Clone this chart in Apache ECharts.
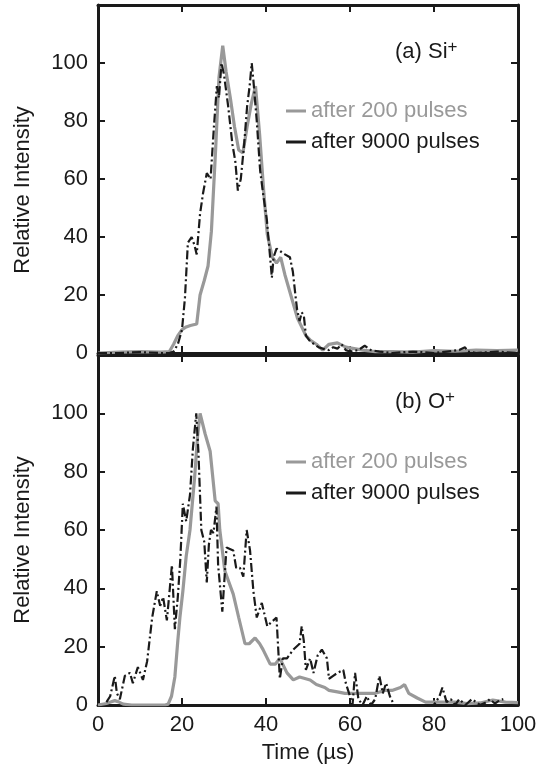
<!DOCTYPE html>
<html>
<head>
<meta charset="utf-8">
<script src="https://cdn.jsdelivr.net/npm/echarts@6/dist/echarts.min.js"></script>
<style>
  html, body { margin: 0; padding: 0; background: #fff; }
  #chart { width: 542px; height: 767px; }
</style>
</head>
<body>
<div id="chart"></div>
<script>
// 时间刻度 / 强度刻度
var timeTicks = [0, 20, 40, 60, 80, 100];
var intensityTicks = [0, 20, 40, 60, 80, 100];

// (a) Si+ : [time, intensity]
var si200 = [[0,0],[5,0.3],[10,0.5],[15,0.3],[17,0.5],[18,3],[19,6],[20,8],[21,9],[22,9.5],[23.5,10],
  [24.3,20],[25.3,25],[26.2,30],[27,42],[28,70],[28.8,95],[29.7,106],[30.5,97],[31.5,88],[32.5,78],
  [33.5,70],[34.5,69],[35.5,78],[36.5,86],[37.5,92],[38.5,75],[39.5,55],[40.3,41],[41.5,33],[42.5,31],
  [43.5,33],[44.5,27],[45.5,22],[46.5,17],[47.5,12],[48.5,9],[49.5,6],[50.5,4.5],[52,3],[53.5,1],
  [55,3],[57,3.5],[59,2],[61,1.5],[63,1],[66,0.5],[70,0.5],[75,0.3],[80,0.8],[85,0.6],[90,1],[95,0.8],[100,1]];
var si9000 = [[0,0],[5,0],[10,0.3],[15,0],[17,0],[18,0.5],[19,3],[20,8],[20.7,19],[21.4,38],[22.3,40],
  [23,37],[23.5,34],[24.3,48],[25,55],[25.9,62],[26.8,60],[27.6,78],[28.3,92],[28.8,88],[29.4,100],
  [30,96],[31,85],[32,72],[32.7,66],[33.3,56],[34,60],[34.8,72],[35.5,85],[36.1,92],[36.6,100],[37,94],
  [37.8,80],[38.6,63],[39.3,55],[40.2,46],[40.8,36],[41.4,26],[41.8,33],[42.5,36],[43.5,35],[44.5,34],
  [45.7,33],[46.4,28],[47,20],[47.4,15],[48,11],[48.5,14],[49,13],[49.5,6],[50.5,4],[51.5,3],[52.5,2],
  [53.5,1.5],[55,1],[56,2],[57,1.5],[58,3],[59,1],[60,0.5],[62,1],[63.5,2.5],[65,1],[67,0.5],[70,0],
  [75,0.5],[80,0],[83,0.5],[86,1],[87.4,2],[88,0.5],[90,0],[95,0.5],[100,0]];

// (b) O+ : [time, intensity]
var o200 = [[0,0],[2,0.5],[3,1],[4,1.5],[5,1],[6,0.3],[8,0],[12,0],[16,0],[16.7,0.3],[17.5,3],[18.3,9.6],
  [19,22],[19.5,30],[20.2,39],[21,51],[21.9,60],[23,78],[23.7,92],[24.3,100],[25.5,93],[26.7,87],
  [27.9,70],[28.6,69],[29,60],[30.2,46],[31.2,42],[32.2,38],[33.5,30],[35,21],[36,21],[37.4,23],
  [38.5,21],[39.3,19],[41,14],[42.2,14],[43.3,16],[45,11],[46.5,8.6],[48,9.6],[50.5,8.6],[52,7],
  [54,6],[55,5],[57,4.5],[58.8,4],[61,4],[63.6,4],[66,4],[68.3,5],[70,5],[72,6],[73,7],[74,4],[76,2.4],
  [78,1],[82,1],[85,1],[88,0.5],[91,0.7],[94,1.7],[97,1],[100,0.8]];
var o9000 = [[2,1],[2.9,3],[4,10],[4.5,4],[5.2,2],[6.4,10],[7.6,11],[8.3,7.5],[9.5,13],[10.7,8.6],
  [11.7,15],[12.9,30],[14,39],[14.8,34],[15.5,37],[16.4,29],[17.1,40],[17.6,48],[18.3,26],[19,37],
  [19.6,50],[20.2,69],[21,63],[21.9,72],[22.6,88],[23.4,100],[23.9,87],[24.6,60],[25.3,56],[25.9,42],
  [26.4,55],[26.9,60],[27.5,59],[28.2,68],[28.6,48],[29.6,32],[30.6,54],[32.2,53],[32.9,47],[33.8,47],
  [34.6,44],[35.4,60],[36.2,53],[37,39],[37.8,30],[39,35],[40.3,27],[41,28],[42.5,30],[43.3,9],[44,16],
  [45,16],[46.5,19],[48,21],[48.5,27],[49,22],[49.5,12],[50.5,16],[51.3,11],[52.3,17],[53.3,19],
  [54.5,16],[55,9],[56,10],[57,11],[58.4,12],[59,7.5],[60,3],[60.6,0],[61.2,11],[62,2],[63,0],[64,3],
  [65,0],[66,2],[67,10],[67.8,4],[68.6,7.5],[69.5,3],[70.5,0],[75,0],[80,0],[81.3,3],[82,6],[83,1],
  [84,2],[85,0],[86,2],[87.5,0],[89,2],[90,1],[91,0],[92.5,1],[93.3,2],[94.5,0.5],[95.7,1.7],[96.5,2]];

var seriesNames = ['after 200 pulses', 'after 9000 pulses'];

var FONT = 'Liberation Sans, Arial, sans-serif';
var INK = '#1a1a1a';
var GRAY = '#999999';

function xAxisOf(grid, pos, labels) {
    return {
        type: 'value', gridIndex: grid, position: pos,
        min: timeTicks[0], max: timeTicks[timeTicks.length - 1], interval: 20,
        axisLine: { show: true, onZero: false, lineStyle: { color: INK, width: 3 } },
        axisTick: { show: true, inside: true, length: 7, lineStyle: { color: INK, width: 2 } },
        axisLabel: { show: labels, color: INK, fontSize: 22, fontFamily: FONT, margin: 9 },
        splitLine: { show: false },
        name: labels ? 'Time (µs)' : '',
        nameLocation: 'middle', nameGap: 37,
        nameTextStyle: { color: INK, fontSize: 22, fontFamily: FONT }
    };
}
function yAxisOf(grid, pos, labels) {
    return {
        type: 'value', gridIndex: grid, position: pos,
        min: 0, max: 120, interval: 20,
        axisLine: { show: true, onZero: false, lineStyle: { color: INK, width: 3 } },
        axisTick: { show: true, inside: true, length: 7, lineStyle: { color: INK, width: 2 } },
        axisLabel: {
            show: labels, color: INK, fontSize: 22, fontFamily: FONT, margin: 10,
            formatter: function (v) { return intensityTicks.indexOf(v) >= 0 ? String(v) : ''; }
        },
        splitLine: { show: false }
    };
}
function lineSeries(name, data, grid, isGray) {
    return {
        name: name, type: 'line', data: data,
        xAxisIndex: grid * 2, yAxisIndex: grid * 2,
        symbol: 'none', showSymbol: false, clip: true,
        z: isGray ? 2 : 3,
        lineStyle: isGray
            ? { color: GRAY, width: 3.2 }
            : { color: INK, width: 2.2, type: [9, 3, 2, 3] },
        itemStyle: { color: isGray ? GRAY : INK }
    };
}
function legendOf(top) {
    return {
        orient: 'vertical', left: 281, top: top,
        icon: 'rect', itemWidth: 20, itemHeight: 3, itemGap: 9,
        textStyle: { fontSize: 22, fontFamily: FONT },
        data: [
            { name: seriesNames[0], textStyle: { color: GRAY }, itemStyle: { color: GRAY } },
            { name: seriesNames[1], textStyle: { color: INK }, itemStyle: { color: INK } }
        ]
    };
}
function label(text, x, y) {
    return {
        type: 'text', left: x, top: y,
        style: {
            text: text, fill: INK, font: '22px ' + FONT,
            rich: { sup: { fontSize: 17, fontFamily: FONT, verticalAlign: 'top', padding: [0, 0, 9, 0] } }
        }
    };
}
function yName(cy) {
    return {
        type: 'text', x: 23, y: cy, rotation: Math.PI / 2,
        style: { text: 'Relative Intensity', fill: INK, font: '22px ' + FONT, align: 'center', verticalAlign: 'middle' }
    };
}

var option = {
    backgroundColor: '#fff',
    animation: false,
    grid: [
        { left: 98, top: 5, width: 420, height: 348 },
        { left: 98, top: 355, width: 420, height: 350 }
    ],
    xAxis: [
        xAxisOf(0, 'bottom', false), xAxisOf(0, 'top', false),
        xAxisOf(1, 'bottom', true), xAxisOf(1, 'top', false)
    ],
    yAxis: [
        yAxisOf(0, 'left', true), yAxisOf(0, 'right', false),
        yAxisOf(1, 'left', true), yAxisOf(1, 'right', false)
    ],
    legend: [legendOf(95), legendOf(446)],
    graphic: [
        label('(a) Si{sup|+}', 395, 39),
        label('(b) O{sup|+}', 395, 389),
        yName(190), yName(540)
    ],
    series: [
        lineSeries(seriesNames[0], si200, 0, true),
        lineSeries(seriesNames[1], si9000, 0, false),
        lineSeries(seriesNames[0], o200, 1, true),
        lineSeries(seriesNames[1], o9000, 1, false)
    ]
};

var chart = echarts.init(document.getElementById('chart'));
chart.setOption(option);
</script>
</body>
</html>
